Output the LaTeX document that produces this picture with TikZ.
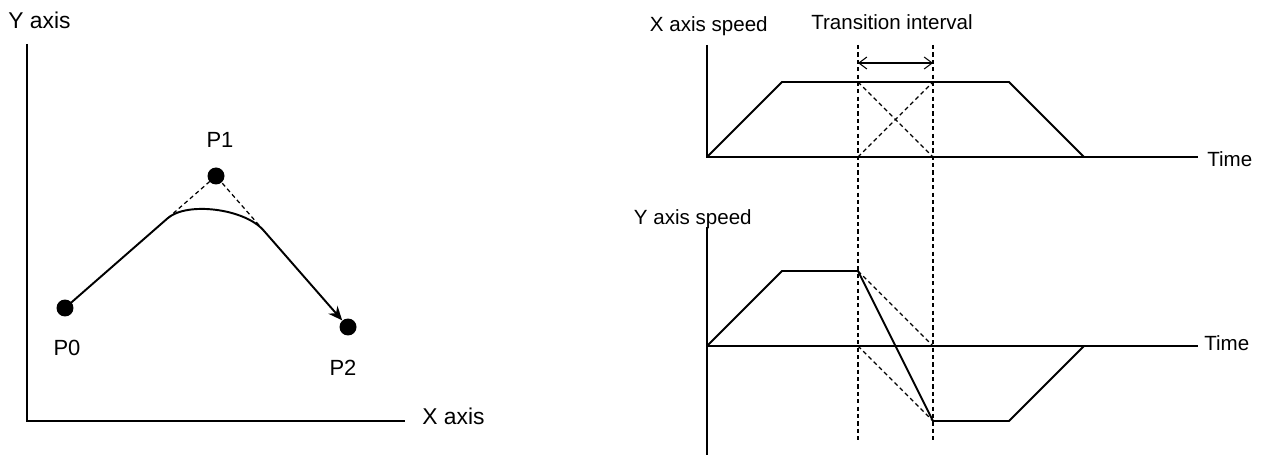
\documentclass[tikz,border=0pt]{standalone}
\usepackage{fontspec}
\setmainfont{Liberation Sans}
\usetikzlibrary{arrows.meta,positioning,calc}

\begin{document}
\begin{tikzpicture}[
  x=0.02cm, y=-0.02cm,
  ax/.style={line width=1.1pt},
  dsh/.style={line width=0.7pt, dash pattern=on 2.4pt off 1.8pt},
  dot/.style={circle, fill, inner sep=0pt, minimum size=0.34cm},
  lab/.style={font=\fontsize{13}{15}\selectfont, inner sep=0pt},
  plab/.style={font=\fontsize{12.5}{15}\selectfont, inner sep=0pt},
  slab/.style={font=\fontsize{11.7}{14}\selectfont, inner sep=0pt},
  arr/.style={-{Stealth[length=2.8mm, width=2.4mm]}, line width=1.1pt},
  iv/.style={{Straight Barb[length=1.6mm, width=2.4mm]}-{Straight Barb[length=1.6mm, width=2.4mm]}, line width=0.6pt}]
\useasboundingbox (0,0) rectangle (1266,455);
% left: path through P0, P1, P2
\coordinate (o) at (27,421);
\coordinate (ytop) at (27,44);
\coordinate (xend) at (405,421);
\draw[ax] (ytop) -- (o) -- (xend);
\node[lab, anchor=west] (ylab) at (8,20) {Y axis};
\node[lab, anchor=west] (xlab) at (422,416) {X axis};
\node[dot] (p0) at (65,308) {};
\node[dot] (p1) at (216,176) {};
\node[dot] (p2) at (348,327) {};
\node[plab] (p0lab) at (67,348) {P0};
\node[plab] (p1lab) at (220,140) {P1};
\node[plab] (p2lab) at (343,368) {P2};
\coordinate (a) at ($(p0.center)!0.68!(p1.center)$);
\coordinate (b) at ($(p1.center)!0.36!(p2.center)$);
\draw[dsh] (a) -- (p1.center) -- (b);
\draw[ax] (p0.center) -- (a) .. controls ($(a)!0.4!(p1.center)$) and ($(b)!0.4!(p1.center)$) .. (b);
\draw[arr] (b) -- (p2);
% right: speed of each axis
\coordinate (xo) at (707,157);
\coordinate (xtop) at (707,45);
\coordinate (xt) at (1198,157);
\coordinate (yo) at (707,346);
\coordinate (ytp) at (707,227);
\coordinate (ybot) at (707,455);
\coordinate (yt) at (1198,346);
\draw[ax] (xtop) -- (xo) -- (xt);
\draw[ax] (ytp) -- (ybot);
\draw[ax] (yo) -- (yt);
\node[slab, anchor=east] (xsp) at (768,26) {X axis speed};
\node[slab, anchor=east] (ysp) at (752,219) {Y axis speed};
\node[slab] (trans) at (892,22) {Transition interval};
\node[slab, anchor=west] (xtime) at (1207,159) {Time};
\node[slab, anchor=west] (ytime) at (1204,343) {Time};
\foreach \t in {858,933} \draw[dsh] (\t,45) -- (\t,440);
\coordinate (i1) at (858,63);
\coordinate (i2) at (933,63);
\draw[iv] (i1) -- (i2);
% X axis speed
\draw[ax] (xo) -- (782,82) -- (1009,82) -- (1084,157);
\draw[dsh] (858,82) -- (933,157);
\draw[dsh] (858,157) -- (933,82);
% Y axis speed
\draw[ax] (yo) -- (782,271) -- (858,271) -- (933,421) -- (1009,421) -- (1084,346);
\draw[dsh] (858,271) -- (933,346);
\draw[dsh] (858,346) -- (933,421);
\end{tikzpicture}
\end{document}
